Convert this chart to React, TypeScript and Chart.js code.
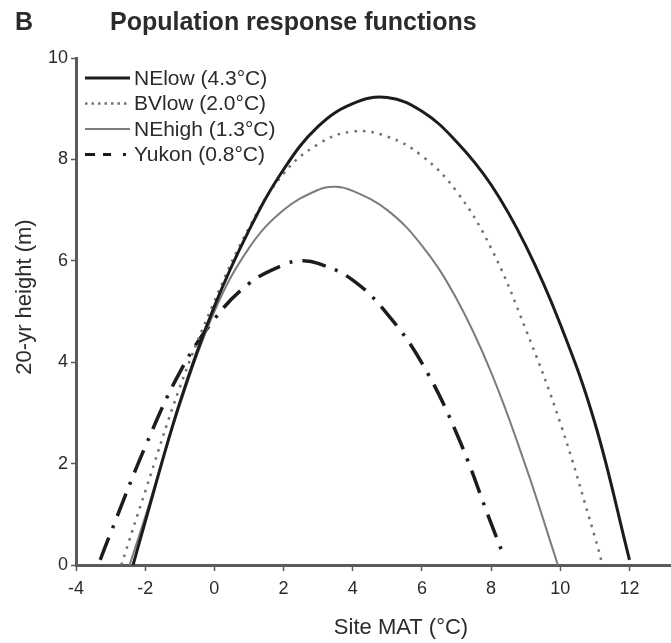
import React, { useEffect, useRef } from 'react';
import { Chart, registerables } from 'chart.js';

Chart.register(...registerables);

// ---- Data ----
const panelLetter = 'B';
const chartTitle = 'Population response functions';
const xAxisTitle = 'Site MAT (°C)';
const yAxisTitle = '20-yr height (m)';

const seriesLabels = ['NElow (4.3°C)', 'BVlow (2.0°C)', 'NEhigh (1.3°C)', 'Yukon (0.8°C)'];

const neLowX = [-2.35, -2, -1, 0, 1, 2, 3, 4, 5, 6, 7, 8, 9, 10, 11, 12];
const neLowY = [0, 0.85, 3.2, 5.1, 6.6, 7.8, 8.65, 9.1, 9.22, 8.95, 8.35, 7.5, 6.3, 4.75, 2.8, 0.1];

const bvLowX = [-2.69, -2, -1, 0, 1, 2, 3, 4, 5, 6, 7, 8, 9, 10, 11, 11.18];
const bvLowY = [0, 1.45, 3.5, 5.2, 6.65, 7.72, 8.3, 8.55, 8.45, 8.07, 7.37, 6.25, 4.65, 2.8, 0.55, 0.1];

const neHighX = [-2.45, -2, -1, 0, 1, 2, 3, 3.5, 4, 5, 6, 7, 8, 9, 9.93];
const neHighY = [0, 0.95, 3.15, 5.0, 6.25, 7.0, 7.4, 7.46, 7.38, 7.0, 6.3, 5.25, 3.8, 1.95, 0];

const yukonX = [-3.3, -3, -2, -1, 0, 1, 2, 2.5, 3, 4, 5, 6, 7, 8, 8.35];
const yukonY = [0.1, 0.63, 2.33, 3.8, 4.85, 5.55, 5.92, 6.0, 5.95, 5.62, 4.95, 3.98, 2.6, 0.82, 0.2];

const xTicks = [-4, -2, 0, 2, 4, 6, 8, 10, 12];
const yTicks = [0, 2, 4, 6, 8, 10];
const xMin = -4;
const xMax = 13.2;
const yMin = 0;
const yMax = 10;

const FONT = "'Liberation Sans', Arial, Helvetica, sans-serif";
const TEXT = '#2b2b2b';
const AXIS = '#5a5a5a';

function pts(xs: number[], ys: number[]) {
  return xs.map((x, i) => ({ x, y: ys[i] }));
}

const legendDashes: number[][] = [[], [2.5, 4], [], [10, 8, 8, 12, 3, 10]];

const decorPlugin = {
  id: 'decor',
  afterDraw(chart: any) {
    const { ctx, chartArea } = chart;
    ctx.save();
    // Titles
    ctx.fillStyle = TEXT;
    ctx.textBaseline = 'middle';
    ctx.textAlign = 'left';
    ctx.font = `bold 25px ${FONT}`;
    ctx.fillText(panelLetter, 15, 23);
    ctx.fillText(chartTitle, 110, 23);

    // Axis titles
    ctx.font = `22px ${FONT}`;
    ctx.textAlign = 'center';
    ctx.fillText(xAxisTitle, chartArea.left + 325, chartArea.bottom + 63);
    ctx.save();
    ctx.translate(25, chartArea.top + 239);
    ctx.rotate(-Math.PI / 2);
    ctx.fillText(yAxisTitle, 0, 0);
    ctx.restore();

    // Legend
    const lx0 = chartArea.left + 9;
    const lx1 = chartArea.left + 54;
    chart.data.datasets.forEach((ds: any, i: number) => {
      const y = chartArea.top + 20 + i * 25.5;
      ctx.beginPath();
      ctx.strokeStyle = ds.borderColor;
      ctx.lineWidth = Math.min(ds.borderWidth, 3);
      ctx.lineCap = 'butt';
      ctx.setLineDash(legendDashes[i]);
      ctx.moveTo(lx0, y);
      ctx.lineTo(lx1, y);
      ctx.stroke();
      ctx.setLineDash([]);
      ctx.fillStyle = TEXT;
      ctx.textAlign = 'left';
      ctx.font = `21px ${FONT}`;
      ctx.fillText(ds.label, lx1 + 4, y + 1);
    });
    ctx.restore();
  },
};

export default function App() {
  const canvasRef = useRef<HTMLCanvasElement | null>(null);

  useEffect(() => {
    document.body.style.margin = '0';
    const canvas = canvasRef.current;
    if (!canvas) return;
    const common = { pointRadius: 0, fill: false, tension: 0.4 };
    const chart = new Chart(canvas, {
      type: 'line',
      data: {
        datasets: [
          {
            ...common,
            label: seriesLabels[0],
            data: pts(neLowX, neLowY),
            borderColor: '#1c1c1c',
            borderWidth: 3,
          },
          {
            ...common,
            label: seriesLabels[1],
            data: pts(bvLowX, bvLowY),
            borderColor: '#707070',
            borderWidth: 2.5,
            borderDash: [2.5, 6],
          },
          {
            ...common,
            label: seriesLabels[2],
            data: pts(neHighX, neHighY),
            borderColor: '#7c7c7c',
            borderWidth: 2,
          },
          {
            ...common,
            label: seriesLabels[3],
            data: pts(yukonX, yukonY),
            borderColor: '#1c1c1c',
            borderWidth: 3.5,
            borderDash: [24, 10, 3, 10],
          },
        ],
      },
      options: {
        animation: false,
        responsive: true,
        maintainAspectRatio: false,
        layout: { padding: { top: 58, right: 0, left: 0, bottom: 0 } },
        plugins: {
          legend: { display: false },
          title: { display: false },
          tooltip: { enabled: false },
        },
        scales: {
          x: {
            type: 'linear',
            min: xMin,
            max: xMax,
            afterBuildTicks: (scale: any) => {
              scale.ticks = xTicks.map((v) => ({ value: v }));
            },
            afterFit: (scale: any) => {
              scale.height = 78;
            },
            border: { display: true, color: AXIS, width: 3 },
            grid: {
              display: true,
              drawOnChartArea: false,
              drawTicks: true,
              tickLength: 6,
              tickWidth: 1.5,
              color: AXIS,
            },
            ticks: {
              autoSkip: false,
              maxRotation: 0,
              padding: 7,
              color: TEXT,
              font: { family: FONT, size: 18 },
              callback: (v: any) => String(v),
            },
          },
          y: {
            type: 'linear',
            min: yMin,
            max: yMax,
            afterBuildTicks: (scale: any) => {
              scale.ticks = yTicks.map((v) => ({ value: v }));
            },
            afterFit: (scale: any) => {
              scale.width = 76;
            },
            border: { display: true, color: AXIS, width: 3 },
            grid: {
              display: true,
              drawOnChartArea: false,
              drawTicks: true,
              tickLength: 5,
              tickWidth: 1.5,
              color: AXIS,
            },
            ticks: {
              autoSkip: false,
              padding: 3,
              color: TEXT,
              font: { family: FONT, size: 18 },
              callback: (v: any) => String(v),
            },
          },
        },
      },
      plugins: [decorPlugin],
    } as any);
    return () => {
      chart.destroy();
    };
  }, []);

  return (
    <div style={{ position: 'relative', width: 671, height: 643 }}>
      <canvas ref={canvasRef} />
    </div>
  );
}
